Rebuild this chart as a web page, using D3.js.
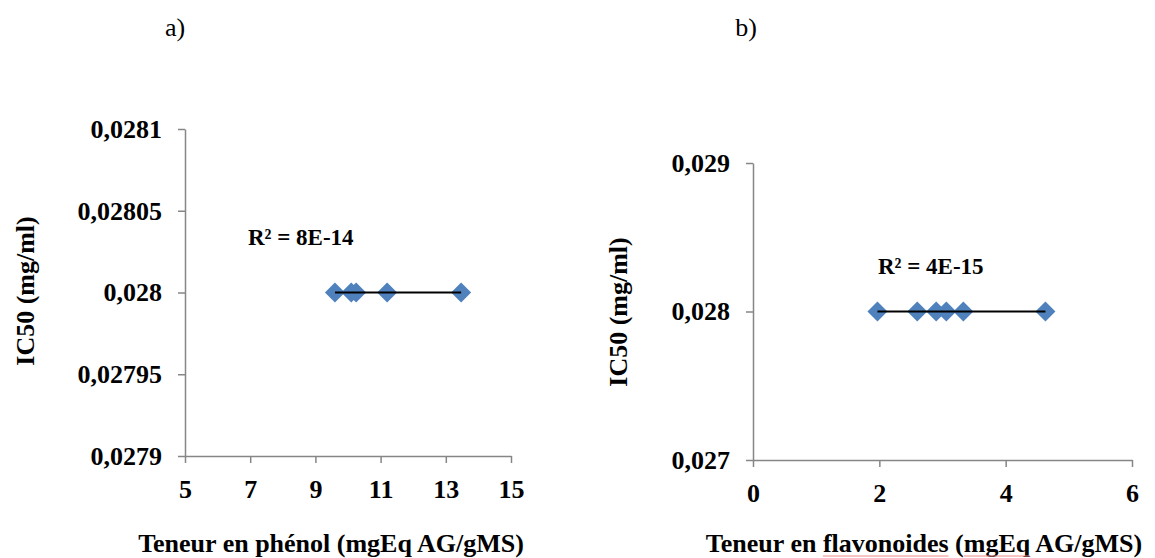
<!DOCTYPE html>
<html lang="fr">
<head>
  <meta charset="UTF-8">
  <title>IC50</title>
  <script src="https://d3js.org/d3.v7.min.js"></script>
  <style>
    body { margin: 0; background: #fff; }
    text { font-family: "Liberation Serif", "Times New Roman", serif; fill: #000; }
  </style>
</head>
<body>
  <svg id="chart" width="1155" height="558"></svg>
  <script>
    // chart a) phenol content vs IC50
    var phenolX = [9.6, 10.1, 10.25, 11.2, 13.47]
    var phenolY = [0.028, 0.028, 0.028, 0.028, 0.028]
    var phenolXTicks = [5, 7, 9, 11, 13, 15]
    var phenolYTicks = [0.0279, 0.02795, 0.028, 0.02805, 0.0281]
    var phenolR2 = "R² = 8E-14"

    // chart b) flavonoid content vs IC50
    var flavoX = [1.97, 2.6, 2.9, 3.06, 3.33, 4.63]
    var flavoY = [0.028, 0.028, 0.028, 0.028, 0.028, 0.028]
    var flavoXTicks = [0, 2, 4, 6]
    var flavoYTicks = [0.027, 0.028, 0.029]
    var flavoR2 = "R² = 4E-15"

    var svg = d3.select("#chart")
    var fmt = function (d) { return String(+d.toPrecision(6)).replace(".", ",") }

    function drawPanel(opt) {
      var xScale = d3.scaleLinear().domain(opt.xDomain).range([opt.left, opt.right])
      var yScale = d3.scaleLinear().domain(opt.yDomain).range([opt.bottom, opt.top])

      var g = svg.append("g")

      // y axis
      var ya = g.append("g")
        .attr("transform", "translate(" + opt.left + ",0)")
        .call(d3.axisLeft(yScale).tickValues(opt.yTicks).tickFormat(fmt).tickSizeInner(7).tickSizeOuter(0).tickPadding(16))
      // x axis
      var xa = g.append("g")
        .attr("transform", "translate(0," + opt.bottom + ")")
        .call(d3.axisBottom(xScale).tickValues(opt.xTicks).tickFormat(fmt).tickSizeInner(7).tickSizeOuter(0).tickPadding(17))

      ;[ya, xa].forEach(function (a) {
        a.selectAll("path, line").attr("stroke", "#868686").attr("stroke-width", 1.5)
        a.selectAll("text")
          .style("font-family", "'Liberation Serif', 'Times New Roman', serif")
          .style("font-size", "26px")
          .style("font-weight", "bold")
          .attr("fill", "#000")
      })

      var xs = d3.extent(opt.x)
      var mean = d3.mean(opt.y)
      var trend = d3.line().x(function (d) { return xScale(d[0]) }).y(function (d) { return yScale(d[1]) })

      // points (diamonds)
      var pts = opt.x.map(function (v, i) { return [v, opt.y[i]] })
      g.append("g")
        .selectAll("path")
        .data(pts)
        .enter()
        .append("path")
        .attr("d", d3.symbol().type(d3.symbolSquare).size(200))
        .attr("transform", function (d) { return "translate(" + xScale(d[0]) + "," + yScale(d[1]) + ") rotate(45)" })
        .attr("fill", "#4F81BD")

      // trend line over the points
      g.append("path")
        .datum([[xs[0], mean], [xs[1], mean]])
        .attr("d", trend)
        .attr("stroke", "#000")
        .attr("stroke-width", 2.2)
        .attr("fill", "none")

      // R² label
      g.append("text")
        .attr("x", opt.r2x)
        .attr("y", opt.r2y)
        .style("font-size", "23px")
        .style("font-weight", "bold")
        .text(opt.r2)

      // y title
      g.append("text")
        .attr("transform", "translate(" + opt.yTitleX + "," + opt.yTitleY + ") rotate(-90)")
        .attr("text-anchor", "middle")
        .style("font-size", "26px")
        .style("font-weight", "bold")
        .text("IC50 (mg/ml)")

      // x title
      var xt = g.append("text")
        .attr("x", opt.xTitleX)
        .attr("y", 552)
        .attr("text-anchor", "middle")
        .style("font-size", "26px")
        .style("font-weight", "bold")
        .text(opt.xTitle)

      // spell-check underline seen in the original
      ;(opt.underline || []).forEach(function (w) {
        var node = xt.node()
        var i = opt.xTitle.indexOf(w)
        var x0 = node.getStartPositionOfChar(i).x
        var x1 = node.getEndPositionOfChar(i + w.length - 1).x
        g.append("line")
          .attr("x1", x0).attr("x2", x1)
          .attr("y1", 556).attr("y2", 556)
          .attr("stroke", "#f08a8a")
          .attr("stroke-width", 1)
      })

      // panel letter
      g.append("text")
        .attr("x", opt.letterX)
        .attr("y", 36)
        .attr("text-anchor", "middle")
        .style("font-size", "26px")
        .text(opt.letter)
    }

    drawPanel({
      x: phenolX, y: phenolY, xTicks: phenolXTicks, yTicks: phenolYTicks,
      xDomain: [5, 15], yDomain: [0.0279, 0.0281],
      left: 185, right: 511, top: 129, bottom: 456,
      r2: phenolR2, r2x: 248, r2y: 245,
      yTitleX: 34, yTitleY: 291,
      xTitle: "Teneur en phénol (mgEq AG/gMS)", xTitleX: 331,
      letter: "a)", letterX: 175
    })

    drawPanel({
      x: flavoX, y: flavoY, xTicks: flavoXTicks, yTicks: flavoYTicks,
      xDomain: [0, 6], yDomain: [0.027, 0.029],
      left: 753, right: 1132, top: 163, bottom: 460,
      r2: flavoR2, r2x: 878, r2y: 274,
      yTitleX: 627, yTitleY: 312,
      xTitle: "Teneur en flavonoides (mgEq AG/gMS)", xTitleX: 924,
      underline: ["flavonoides", "mgEq"],
      letter: "b)", letterX: 746
    })
  </script>
</body>
</html>
